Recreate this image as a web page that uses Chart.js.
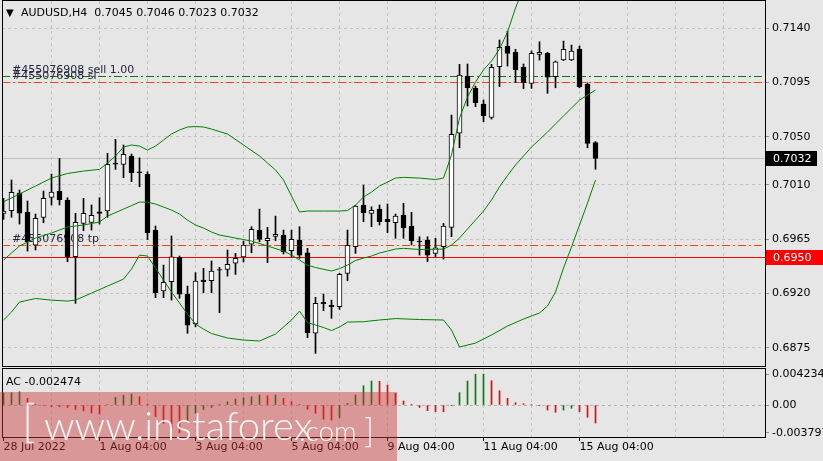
<!DOCTYPE html>
<html>
<head>
<meta charset="utf-8">
<script src="https://cdn.jsdelivr.net/npm/chart.js@4.4.1/dist/chart.umd.min.js"></script>
<style>
  html, body { margin: 0; padding: 0; }
  body { width: 823px; height: 461px; background: #e6e6e6; position: relative; overflow: hidden;
         font-family: "DejaVu Sans", sans-serif; font-size: 11px; color: #000; }
  canvas { position: absolute; left: 0; }
  #mainChart { top: 0; }
  #acChart { top: 367px; }
  .lbl { position: absolute; white-space: pre; line-height: 13px; }
  #tri { left: 6px; top: 6px; font-size: 10px; }
  #hdr { left: 21px; top: 6px; }
  #acLbl { left: 6px; top: 375px; }
  #wm { position: absolute; left: 0; top: 392px; width: 397px; height: 69px;
        background: rgba(205, 55, 55, 0.45); color: rgba(255, 255, 255, 0.92);
        font-family: Lato, sans-serif; font-weight: 300; }
  #wm span { position: absolute; white-space: pre; line-height: 1; }
  #b1 { left: 22px; top: 5px; font-size: 46px; }
  #w1 { left: 44px; top: 13px; font-size: 40px; }
  #w2 { left: 299px; top: 24px; font-size: 28px; }
  #b2 { left: 364px; top: 21px; font-size: 34px; }
</style>
</head>
<body>
<canvas id="mainChart" width="823" height="367"></canvas>
<canvas id="acChart" width="823" height="94"></canvas>
<div class="lbl" id="tri">▼</div>
<div class="lbl" id="hdr">AUDUSD,H4  0.7045 0.7046 0.7023 0.7032</div>
<div class="lbl" id="acLbl">AC -0.002474</div>
<div id="wm"><span id="b1">[</span><span id="w1">www.instaforex</span><span id="w2">.com</span><span id="b2">]</span></div>
<script>
// velas H4, de 28 Jul 04:00 a 15 Aug 12:00
const opens = [0.69865, 0.69886, 0.70033, 0.69876, 0.69602, 0.69832, 0.69997, 0.70050, 0.69975, 0.69505,
  0.69782, 0.69790, 0.69878, 0.69884, 0.70282, 0.70271, 0.70340, 0.70209, 0.70188, 0.69726,
  0.69221, 0.69298, 0.69500, 0.69196, 0.68948, 0.69312, 0.69306, 0.69398, 0.69401, 0.69451,
  0.69503, 0.69610, 0.69726, 0.69638, 0.69674, 0.69685, 0.69555, 0.69644, 0.69538, 0.68871,
  0.69127, 0.69103, 0.69091, 0.69368, 0.69588, 0.69934, 0.69865, 0.69900, 0.69815, 0.69787,
  0.69851, 0.69760, 0.69635, 0.69644, 0.69533, 0.69588, 0.69749, 0.70528, 0.71002, 0.70900,
  0.70770, 0.70660, 0.71079, 0.71251, 0.71201, 0.71077, 0.70942, 0.71182, 0.71190, 0.70997,
  0.71135, 0.71135, 0.71226, 0.70936, 0.7045];
const highs = [0.69989, 0.70141, 0.70058, 0.69967, 0.69859, 0.70050, 0.70190, 0.70320, 0.69994, 0.69865,
  0.69989, 0.69934, 0.69994, 0.70362, 0.70478, 0.70431, 0.70356, 0.70325, 0.70209, 0.69760,
  0.69436, 0.69677, 0.69511, 0.69262, 0.69373, 0.69409, 0.69470, 0.69417, 0.69561, 0.69533,
  0.69635, 0.69754, 0.69900, 0.69749, 0.69842, 0.69726, 0.69726, 0.69754, 0.69575, 0.69169,
  0.69196, 0.69146, 0.69368, 0.69726, 0.69930, 0.70099, 0.69919, 0.69934, 0.69942, 0.69859,
  0.69948, 0.69873, 0.69671, 0.69671, 0.69658, 0.69782, 0.70679, 0.71099, 0.71102, 0.70919,
  0.70803, 0.71099, 0.71301, 0.71375, 0.71224, 0.71102, 0.71210, 0.71286, 0.71199, 0.71127,
  0.71292, 0.71259, 0.71251, 0.70947, 0.7046];
const lows = [0.69815, 0.69832, 0.69776, 0.69552, 0.69561, 0.69787, 0.69934, 0.69934, 0.69464, 0.69119,
  0.69721, 0.69726, 0.69776, 0.69832, 0.70229, 0.70160, 0.70127, 0.70085, 0.69648, 0.69166,
  0.69166, 0.69146, 0.69161, 0.68871, 0.68925, 0.69207, 0.69207, 0.69041, 0.69345, 0.69359,
  0.69461, 0.69538, 0.69629, 0.69456, 0.69638, 0.69528, 0.69500, 0.69492, 0.68834, 0.68705,
  0.69058, 0.68995, 0.69069, 0.69306, 0.69533, 0.69795, 0.69754, 0.69768, 0.69704, 0.69658,
  0.69658, 0.69602, 0.69519, 0.69464, 0.69505, 0.69486, 0.69671, 0.70408, 0.70754, 0.70748,
  0.70624, 0.70646, 0.70914, 0.71085, 0.70947, 0.70897, 0.70900, 0.71135, 0.70859, 0.70905,
  0.71130, 0.71130, 0.70905, 0.70408, 0.7023];
const closes = [0.69884, 0.70039, 0.69867, 0.69627, 0.69823, 0.69989, 0.70041, 0.69977, 0.69505, 0.69790,
  0.69865, 0.69848, 0.69865, 0.70271, 0.70273, 0.70354, 0.70201, 0.70201, 0.69704, 0.69207,
  0.69293, 0.69505, 0.69196, 0.68939, 0.69304, 0.69298, 0.69387, 0.69393, 0.69442, 0.69492,
  0.69602, 0.69732, 0.69649, 0.69658, 0.69691, 0.69547, 0.69649, 0.69519, 0.68876, 0.69119,
  0.69116, 0.69091, 0.69359, 0.69600, 0.69925, 0.69870, 0.69890, 0.69795, 0.69795, 0.69842,
  0.69745, 0.69638, 0.69627, 0.69519, 0.69580, 0.69760, 0.70519, 0.71011, 0.70905, 0.70781,
  0.70673, 0.71074, 0.71240, 0.71190, 0.71052, 0.70947, 0.71190, 0.71199, 0.70992, 0.71121,
  0.71224, 0.71209, 0.70914, 0.70445, 0.7032];

// Accelerator Oscillator
const acValues = [0.00164, 0.00169, 0.00182, 0.00092, 0.00010, -0.00007, -0.00021, -0.00025, -0.00034, -0.00062,
  -0.00082, -0.00110, -0.00123, 0.00007, 0.00105, 0.00133, 0.00151, 0.00114, 0.00014, -0.00160,
  -0.00251, -0.00315, -0.003797, -0.00233, -0.00110, -0.00062, -0.00034, 0.00007, 0.00045, 0.00082,
  0.00100, 0.00114, 0.00137, 0.00127, 0.00137, 0.00092, 0.00045, 0.00010, -0.00059, -0.00114,
  -0.00196, -0.00206, -0.00174, 0.00023, 0.00137, 0.00264, 0.00329, 0.00325, 0.00274, 0.00160,
  0.00055, 0.00010, -0.00034, -0.00078, -0.00092, -0.00093, -0.00004, 0.00169, 0.00329, 0.00422,
  0.004234, 0.00333, 0.00196, 0.00092, 0.00032, 0.00018, 0.00007, -0.00004, -0.00069, -0.00100,
  -0.00069, -0.00045, -0.00092, -0.00169, -0.002474];

// Bandas de Bollinger [vela, precio]
const bbUpper = [[0, 0.69961], [2, 0.70025], [4, 0.70091], [6, 0.70157], [8, 0.70195], [10, 0.70215], [12, 0.70229],
  [13, 0.70282], [14, 0.70340], [15, 0.70414], [16, 0.70431], [17, 0.70422], [18, 0.70389], [19, 0.70422],
  [20, 0.70472], [21, 0.70522], [22, 0.70555], [23, 0.70580], [24, 0.70584], [25, 0.70580], [26, 0.70563],
  [28, 0.70522], [30, 0.70431], [32, 0.70340], [33, 0.70282], [34, 0.70224], [35, 0.70141], [36, 0.70008],
  [37, 0.69876], [38, 0.69884], [40, 0.69884], [42, 0.69884], [43, 0.69888], [44, 0.69934], [45, 0.70000],
  [46, 0.70041], [47, 0.70091], [48, 0.70124], [49, 0.70157], [50, 0.70163], [52, 0.70157], [54, 0.70145],
  [55, 0.70157], [56, 0.70348], [57, 0.70654], [58, 0.70828], [59, 0.70953], [60, 0.71052], [61, 0.71127],
  [62, 0.71226], [63, 0.71367], [64, 0.71566], [65, 0.71731], [66, 0.71839], [68, 0.71963], [70, 0.72005],
  [72, 0.72030], [74, 0.72046]];
const bbMiddle = [[0, 0.69478], [1, 0.69536], [2, 0.69594], [4, 0.69660], [6, 0.69702], [8, 0.69751], [10, 0.69768],
  [12, 0.69793], [13, 0.69842], [15, 0.69900], [16, 0.69929], [17, 0.69958], [18, 0.69958], [19, 0.69942],
  [20, 0.69917], [21, 0.69892], [22, 0.69859], [23, 0.69809], [24, 0.69768], [25, 0.69743], [26, 0.69710],
  [27, 0.69685], [29, 0.69660], [31, 0.69635], [33, 0.69594], [35, 0.69552], [36, 0.69519], [37, 0.69478],
  [38, 0.69436], [39, 0.69416], [41, 0.69387], [42, 0.69407], [43, 0.69436], [44, 0.69474], [45, 0.69494],
  [46, 0.69511], [47, 0.69536], [48, 0.69552], [49, 0.69569], [50, 0.69575], [52, 0.69565], [54, 0.69567],
  [55, 0.69569], [56, 0.69602], [57, 0.69660], [58, 0.69735], [59, 0.69809], [60, 0.69884], [61, 0.69975],
  [62, 0.70085], [63, 0.70178], [64, 0.70265], [65, 0.70340], [66, 0.70414], [67, 0.70476], [68, 0.70538],
  [69, 0.70605], [70, 0.70671], [71, 0.70737], [72, 0.70803], [73, 0.70845], [74, 0.70886]];
const bbLower = [[0, 0.68981], [1, 0.69047], [2, 0.69130], [4, 0.69159], [6, 0.69146], [8, 0.69138], [9, 0.69146],
  [11, 0.69204], [13, 0.69262], [15, 0.69320], [16, 0.69403], [17, 0.69519], [18, 0.69511], [19, 0.69412],
  [20, 0.69312], [21, 0.69213], [22, 0.69122], [23, 0.69030], [24, 0.68948], [25, 0.68906], [26, 0.68869],
  [28, 0.68832], [30, 0.68815], [32, 0.68807], [34, 0.68865], [35, 0.68923], [36, 0.68981], [37, 0.69055],
  [38, 0.68960], [40, 0.68919], [41, 0.68894], [42, 0.68923], [43, 0.68964], [45, 0.68967], [47, 0.68981],
  [49, 0.68993], [52, 0.68985], [55, 0.68981], [56, 0.68898], [57, 0.68757], [59, 0.68790], [61, 0.68857],
  [63, 0.68931], [65, 0.68989], [67, 0.69039], [68, 0.69097], [69, 0.69213], [70, 0.69412], [71, 0.69586],
  [72, 0.69768], [73, 0.69950], [74, 0.70141]];

// niveles de la orden y precios marcados
const sellPrice = 0.7100;
const slPrice = 0.7095;
const tpPrice = 0.6960;
const alertPrice = 0.6950;
const lastPrice = 0.7032;

const priceTicks = [0.7140, 0.7095, 0.7050, 0.7010, 0.6965, 0.6920, 0.6875];
const acTicks = [0.004234, 0, -0.003797];
const gridIdx = [6, 12, 18, 24, 30, 36, 42, 48, 54, 60, 66, 72, 78, 84, 90];
const xTickIdx = [0, 12, 24, 36, 48, 60, 72];
const xTickLabels = ['28 Jul 2022', '1 Aug 04:00', '3 Aug 04:00', '5 Aug 04:00', '9 Aug 04:00', '11 Aug 04:00', '15 Aug 04:00'];

const xMin = -0.1875, xMax = 95.1875;
const yMin = 0.68600, yMax = 0.71624;
const acMin = -0.004384, acMax = 0.004932;

const FONT = { family: 'DejaVu Sans', size: 11 };
Chart.defaults.font.family = 'DejaVu Sans';
Chart.defaults.font.size = 11;
Chart.defaults.color = '#000';

const idx = opens.map((_, i) => i);

// quitar el relleno automatico de las etiquetas
function fixY(s) { s.width = 58; s.paddingTop = 0; s.paddingBottom = 0; }
function fixX(h) { return s => { s.height = h; s.paddingLeft = 0; s.paddingRight = 0; }; }

// marco negro alrededor del area
const frame = {
    id: 'frame',
    afterDraw(chart) {
        const { ctx, chartArea: a } = chart;
        ctx.save();
        ctx.strokeStyle = '#000';
        ctx.lineWidth = 1;
        ctx.strokeRect(a.left + 0.5, a.top - 0.5, a.right - a.left, a.bottom - a.top + 1);
        ctx.restore();
    }
};

// lineas horizontales de la orden y textos, debajo de las velas
const orderLevels = {
    id: 'orderLevels',
    beforeDatasetsDraw(chart) {
        const { ctx, chartArea: a, scales: { y } } = chart;
        const dd = [8, 3, 2, 3];
        const levels = [
            [lastPrice, '#c0c0c0', null],
            [alertPrice, '#ff0000', null],
            [sellPrice, '#008000', dd],
            [slPrice, '#ff4500', dd],
            [tpPrice, '#ff4500', dd]
        ];
        ctx.save();
        levels.forEach(([p, col, dash]) => {
            const row = Math.floor(y.getPixelForValue(p));
            ctx.fillStyle = col;
            if (!dash) {
                ctx.fillRect(a.left, row, a.right - a.left, 1);
                return;
            }
            // trazo punto-raya pixel a pixel
            let x = a.left, k = 0;
            while (x < a.right) {
                const len = dash[k % dash.length];
                if (k % 2 === 0) ctx.fillRect(x, row, Math.min(len, a.right - x), 1);
                x += len;
                k++;
            }
        });
        ctx.font = '11px "DejaVu Sans"';
        ctx.fillStyle = '#25253d';
        ctx.textBaseline = 'alphabetic';
        ctx.fillText('#455076908 sell 1.00', 12, y.getPixelForValue(sellPrice) - 3);
        ctx.fillText('#455076908 sl', 12, y.getPixelForValue(slPrice) - 3);
        ctx.fillText('#455076908 tp', 12, y.getPixelForValue(tpPrice) - 3);
        ctx.restore();
    }
};

// etiquetas de precio en el eje
const priceTags = {
    id: 'priceTags',
    afterDraw(chart) {
        const { ctx, chartArea: a, scales: { y } } = chart;
        ctx.save();
        ctx.font = '11px "DejaVu Sans"';
        ctx.textBaseline = 'middle';
        const tags = [[lastPrice, '#000000', 51], [alertPrice, '#ff0000', 57]];
        tags.forEach(([p, col, w]) => {
            const py = Math.floor(y.getPixelForValue(p));
            ctx.fillStyle = col;
            ctx.fillRect(a.right + 1, py - 7, w, 15);
            ctx.fillStyle = '#fff';
            ctx.fillText(p.toFixed(4), a.right + 8, py + 1);
        });
        ctx.restore();
    }
};

function band(points) {
    return {
        type: 'line',
        data: points.map(p => ({ x: p[0], y: p[1] })),
        borderColor: '#008000',
        borderWidth: 1,
        pointRadius: 0,
        tension: 0,
        order: 1
    };
}

new Chart(document.getElementById('mainChart'), {
    type: 'bar',
    data: {
        datasets: [
            {
                // mechas
                type: 'bar',
                data: idx.map(i => ({ x: i, y: [lows[i], highs[i]] })),
                backgroundColor: '#000',
                barThickness: 1,
                grouped: false,
                order: 5
            },
            {
                // cuerpos
                type: 'bar',
                data: idx.map(i => ({ x: i, y: [opens[i], closes[i]] })),
                backgroundColor: idx.map(i => closes[i] >= opens[i] ? '#ffffff' : '#000000'),
                borderColor: '#000',
                borderWidth: 1,
                borderSkipped: false,
                barThickness: 5,
                grouped: false,
                order: 4
            },
            band(bbUpper),
            band(bbMiddle),
            band(bbLower)
        ]
    },
    options: {
        responsive: false,
        animation: false,
        devicePixelRatio: 1,
        events: [],
        layout: { autoPadding: false, padding: { left: 2, right: 0, top: 1, bottom: 1 } },
        plugins: { legend: { display: false }, tooltip: { enabled: false } },
        scales: {
            x: {
                type: 'linear',
                min: xMin,
                max: xMax,
                offset: false,
                afterBuildTicks: s => { s.ticks = gridIdx.map(v => ({ value: v })); },
                afterFit: fixX(0),
                ticks: { display: false },
                grid: { color: '#c4c4c4', drawTicks: false, offset: false },
                border: { display: false, dash: [3, 3] }
            },
            y: {
                position: 'right',
                min: yMin,
                max: yMax,
                afterBuildTicks: s => { s.ticks = priceTicks.map(v => ({ value: v })); },
                afterFit: fixY,
                ticks: { callback: v => v.toFixed(4), padding: 3, font: FONT, color: '#000' },
                grid: { color: '#c4c4c4', tickColor: '#909090', tickLength: 4 },
                border: { display: false, dash: [3, 3] }
            }
        }
    },
    plugins: [orderLevels, priceTags, frame]
});

// Gráfica AC
new Chart(document.getElementById('acChart'), {
    type: 'bar',
    data: {
        datasets: [{
            data: idx.map(i => ({ x: i, y: acValues[i] })),
            backgroundColor: acValues.map((v, i) => (i === 0 || v > acValues[i - 1]) ? '#008000' : '#ff0000'),
            barThickness: 1,
            grouped: false
        }]
    },
    options: {
        responsive: false,
        animation: false,
        devicePixelRatio: 1,
        events: [],
        layout: { autoPadding: false, padding: { left: 2, right: 0, top: 2, bottom: 0 } },
        plugins: { legend: { display: false }, tooltip: { enabled: false } },
        scales: {
            x: {
                type: 'linear',
                min: xMin,
                max: xMax,
                offset: false,
                afterBuildTicks: s => { s.ticks = [0].concat(gridIdx).map(v => ({ value: v })); },
                afterFit: fixX(24),
                ticks: {
                    autoSkip: false,
                    maxRotation: 0,
                    minRotation: 0,
                    align: 'start',
                    padding: 0,
                    font: FONT,
                    color: '#000',
                    callback: v => {
                        const k = xTickIdx.indexOf(v);
                        return k >= 0 ? xTickLabels[k] : '';
                    }
                },
                grid: {
                    offset: false,
                    color: c => (c.tick && c.tick.value === 0) ? 'rgba(0,0,0,0)' : '#c4c4c4',
                    tickColor: c => (c.tick && xTickIdx.includes(c.tick.value)) ? '#000' : 'rgba(0,0,0,0)',
                    tickLength: 4
                },
                border: { display: false, dash: [3, 3] }
            },
            y: {
                position: 'right',
                min: acMin,
                max: acMax,
                afterBuildTicks: s => { s.ticks = acTicks.map(v => ({ value: v })); },
                afterFit: fixY,
                ticks: { callback: v => v === 0 ? '0.00' : String(v), padding: 3, font: FONT, color: '#000' },
                grid: {
                    color: c => (c.tick && c.tick.value === 0) ? '#b0b0b0' : 'rgba(0,0,0,0)',
                    tickColor: '#909090',
                    tickLength: 4
                },
                border: { display: false, dash: [3, 3] }
            }
        }
    },
    plugins: [frame]
});
</script>
</body>
</html>
